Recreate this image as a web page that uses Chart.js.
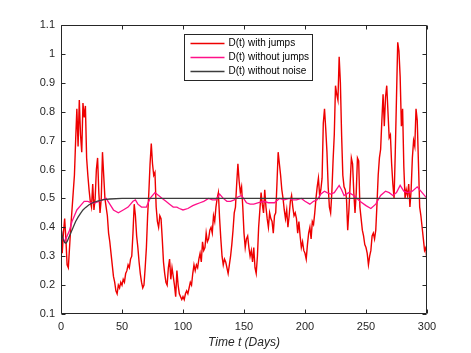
<!DOCTYPE html>
<html>
<head>
<meta charset="utf-8">
<script src="https://cdn.jsdelivr.net/npm/chart.js@4/dist/chart.umd.min.js"></script>
<style>
  html, body { margin: 0; padding: 0; background: #fff; }
  #wrap { width: 471px; height: 353px; }
</style>
</head>
<body>
<div id="wrap"><canvas id="c" width="471" height="353"></canvas></div>
<script>
// D(t) with jumps, one value per day, t = 0..300
const withJumps = [
  0.40,0.31,0.38,0.43,0.36,0.27,0.26,0.33,0.40,0.46,
  0.52,0.58,0.70,0.81,0.68,0.84,0.72,0.66,0.83,0.78,
  0.82,0.64,0.58,0.53,0.49,0.47,0.55,0.46,0.50,0.60,
  0.64,0.52,0.45,0.50,0.66,0.58,0.50,0.47,0.44,0.38,
  0.35,0.31,0.27,0.23,0.21,0.18,0.17,0.20,0.19,0.21,
  0.20,0.22,0.21,0.24,0.25,0.27,0.26,0.29,0.30,0.38,
  0.48,0.44,0.37,0.33,0.28,0.24,0.21,0.19,0.20,0.26,
  0.33,0.44,0.52,0.62,0.69,0.62,0.58,0.59,0.47,0.42,
  0.40,0.44,0.43,0.36,0.28,0.24,0.21,0.20,0.26,0.29,
  0.22,0.26,0.23,0.20,0.16,0.25,0.20,0.17,0.16,0.15,
  0.16,0.15,0.17,0.18,0.17,0.19,0.21,0.20,0.24,0.27,
  0.25,0.27,0.26,0.29,0.31,0.28,0.35,0.32,0.33,0.38,
  0.35,0.36,0.39,0.40,0.38,0.44,0.42,0.47,0.50,0.52,
  0.43,0.36,0.30,0.27,0.29,0.28,0.26,0.24,0.27,0.30,
  0.34,0.39,0.45,0.47,0.55,0.62,0.56,0.52,0.54,0.47,
  0.38,0.33,0.36,0.37,0.33,0.30,0.32,0.28,0.33,0.26,
  0.24,0.30,0.40,0.46,0.52,0.48,0.45,0.53,0.47,0.43,
  0.40,0.45,0.43,0.42,0.38,0.44,0.45,0.55,0.66,0.62,
  0.58,0.53,0.50,0.46,0.43,0.46,0.40,0.44,0.49,0.51,
  0.47,0.44,0.45,0.43,0.38,0.42,0.37,0.33,0.35,0.32,
  0.31,0.29,0.34,0.38,0.40,0.36,0.42,0.41,0.45,0.50,
  0.54,0.57,0.51,0.53,0.57,0.76,0.81,0.74,0.66,0.54,
  0.47,0.45,0.52,0.63,0.72,0.89,0.86,0.84,0.99,0.90,
  0.72,0.58,0.54,0.53,0.50,0.39,0.46,0.55,0.64,0.62,
  0.52,0.45,0.52,0.64,0.63,0.47,0.43,0.39,0.37,0.34,
  0.33,0.31,0.27,0.30,0.32,0.37,0.38,0.36,0.39,0.48,
  0.58,0.64,0.67,0.77,0.86,0.75,0.85,0.89,0.80,0.71,
  0.72,0.62,0.55,0.50,0.66,0.85,1.04,1.01,0.92,0.75,
  0.81,0.61,0.50,0.53,0.51,0.55,0.47,0.53,0.64,0.70,
  0.68,0.81,0.77,0.62,0.47,0.44,0.40,0.36,0.32,0.33,0.28
];

// D(t) without jumps
const noJumpDays = [
  0,1,3,5,7,9,11,13,16,19,22,25,28,31,34,37,40,43,47,51,55,59,61,63,66,70,
  73,77,80,83,86,89,92,95,97,100,104,108,111,114,117,121,124,127,130,133,
  136,139,142,145,148,152,155,158,162,166,170,175,179,183,187,190,193,197,
  200,204,207,210,213,216,218,221,224,228,230,232,236,240,245,250,254,258,
  262,266,269,272,275,278,281,284,288,292,296,300
];
const noJumps = [
  0.40,0.37,0.35,0.37,0.39,0.42,0.44,0.46,0.475,0.49,0.49,0.485,0.485,0.49,0.495,0.50,0.48,0.46,0.45,0.46,0.47,0.49,0.495,0.48,0.47,0.47,
  0.50,0.52,0.51,0.50,0.49,0.48,0.47,0.47,0.465,0.46,0.465,0.475,0.48,0.485,0.49,0.50,0.495,0.495,0.515,0.50,
  0.49,0.49,0.495,0.505,0.51,0.485,0.48,0.48,0.485,0.49,0.485,0.485,0.50,0.495,0.50,0.495,0.495,0.50,
  0.49,0.48,0.49,0.495,0.515,0.525,0.52,0.515,0.52,0.545,0.53,0.51,0.52,0.51,0.49,0.475,0.465,0.48,
  0.51,0.525,0.52,0.51,0.52,0.545,0.525,0.52,0.525,0.54,0.52,0.50
];

// D(t) without noise
const noNoiseDays = [0,1,2,3,4,5,6,8,10,12,14,16,18,20,23,26,30,35,40,50,300];
const noNoise = [0.40,0.37,0.355,0.347,0.345,0.35,0.36,0.38,0.40,0.42,0.435,0.448,0.46,0.468,0.478,0.485,0.491,0.496,0.498,0.50,0.50];

const xTicks = [0, 50, 100, 150, 200, 250, 300];
const yTicks = [0.1, 0.2, 0.3, 0.4, 0.5, 0.6, 0.7, 0.8, 0.9, 1, 1.1];
const seriesNames = ['D(t) with jumps', 'D(t) without jumps', 'D(t) without noise'];
const seriesColors = ['#ee0000', '#ff1089', '#3c3c3c'];

const axisColor = '#262626';

// box, inward ticks and the legend, drawn matlab style
const matlabFrame = {
  id: 'matlabFrame',
  afterDatasetsDraw(chart) {
    const { ctx, chartArea: a, scales } = chart;
    const L = Math.round(a.left) + 0.5, R = Math.round(a.right) - 0.5;
    const T = Math.round(a.top) + 0.5, B = Math.round(a.bottom) - 0.5;
    ctx.save();
    ctx.strokeStyle = axisColor;
    ctx.lineWidth = 1;
    ctx.beginPath();
    ctx.rect(L, T, R - L, B - T);
    xTicks.forEach(v => {
      const px = Math.round(scales.x.getPixelForValue(v)) + 0.5;
      ctx.moveTo(px, B); ctx.lineTo(px, B - 4);
      ctx.moveTo(px, T); ctx.lineTo(px, T + 4);
    });
    yTicks.forEach(v => {
      const py = Math.round(scales.y.getPixelForValue(v)) + 0.5;
      ctx.moveTo(L, py); ctx.lineTo(L + 4, py);
      ctx.moveTo(R, py); ctx.lineTo(R - 4, py);
    });
    ctx.stroke();

    // legend
    const bx = 184.5, by = 34.5, bw = 128, bh = 46;
    ctx.fillStyle = '#fff';
    ctx.fillRect(bx, by, bw, bh);
    ctx.strokeRect(bx, by, bw, bh);
    ctx.font = '10px "Liberation Sans", Arial, sans-serif';
    ctx.textBaseline = 'middle';
    ctx.textAlign = 'left';
    seriesNames.forEach((name, i) => {
      const ry = by + 9 + i * 14;
      ctx.strokeStyle = seriesColors[i];
      ctx.lineWidth = 1.3;
      ctx.beginPath();
      ctx.moveTo(bx + 6, ry); ctx.lineTo(bx + 40, ry);
      ctx.stroke();
      ctx.fillStyle = '#000';
      ctx.fillText(name, bx + 44, ry);
    });
    ctx.restore();
  }
};

new Chart(document.getElementById('c'), {
  type: 'line',
  data: {
    datasets: [
      {
        label: seriesNames[0],
        data: withJumps.map((v, i) => ({ x: i, y: v })),
        borderColor: seriesColors[0], borderWidth: 1.4, order: 3
      },
      {
        label: seriesNames[1],
        data: noJumpDays.map((d, i) => ({ x: d, y: noJumps[i] })),
        borderColor: seriesColors[1], borderWidth: 1.3, order: 2
      },
      {
        label: seriesNames[2],
        data: noNoiseDays.map((d, i) => ({ x: d, y: noNoise[i] })),
        borderColor: seriesColors[2], borderWidth: 1.3, order: 1
      }
    ]
  },
  options: {
    responsive: false,
    animation: false,
    events: [],
    elements: { point: { radius: 0 }, line: { tension: 0, fill: false } },
    layout: { padding: { left: 0, right: 44, top: 25, bottom: 0 } },
    plugins: { legend: { display: false }, tooltip: { enabled: false } },
    scales: {
      x: {
        type: 'linear', min: 0, max: 300,
        afterBuildTicks: s => { s.ticks = xTicks.map(v => ({ value: v })); },
        afterFit: s => { s.height = 39; },
        grid: { display: false, drawTicks: false },
        border: { display: false },
        ticks: {
          padding: 6, maxRotation: 0, color: axisColor,
          font: { family: '"Liberation Sans", Arial, sans-serif', size: 11 }
        },
        title: {
          display: true, text: 'Time t (Days)', color: axisColor,
          padding: { top: 0, bottom: 3 },
          font: { family: '"Liberation Sans", Arial, sans-serif', size: 12, style: 'italic' }
        }
      },
      y: {
        min: 0.1, max: 1.1,
        afterBuildTicks: s => { s.ticks = yTicks.map(v => ({ value: v })); },
        afterFit: s => { s.width = 61; },
        grid: { display: false, drawTicks: false },
        border: { display: false },
        ticks: {
          padding: 6, color: axisColor,
          font: { family: '"Liberation Sans", Arial, sans-serif', size: 11 },
          callback: v => String(parseFloat(v.toFixed(2)))
        }
      }
    }
  },
  plugins: [matlabFrame]
});
</script>
</body>
</html>
